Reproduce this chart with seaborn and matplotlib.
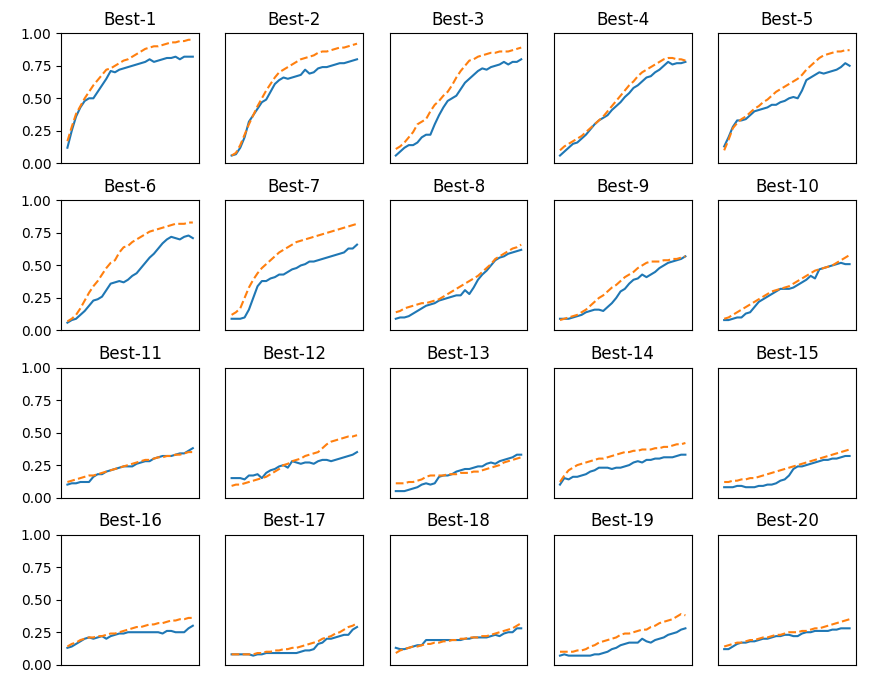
import numpy as np
import pandas as pd
import seaborn as sns
import matplotlib.pyplot as plt

titles = [f"Best-{i}" for i in range(1, 21)]
yticks = [0.00, 0.25, 0.50, 0.75, 1.00]

# blue solid curves, one list per panel
blue = [
    [0.12, 0.25, 0.36, 0.43, 0.48, 0.50, 0.50, 0.55, 0.60, 0.65, 0.71, 0.70, 0.72, 0.73, 0.74, 0.75, 0.76, 0.77, 0.78, 0.80, 0.78, 0.79, 0.80, 0.81, 0.81, 0.82, 0.80, 0.82, 0.82, 0.82],
    [0.06, 0.07, 0.12, 0.20, 0.32, 0.37, 0.42, 0.47, 0.49, 0.55, 0.61, 0.64, 0.66, 0.65, 0.66, 0.67, 0.68, 0.72, 0.69, 0.70, 0.73, 0.74, 0.74, 0.75, 0.76, 0.77, 0.77, 0.78, 0.79, 0.80],
    [0.06, 0.09, 0.12, 0.14, 0.14, 0.16, 0.20, 0.22, 0.22, 0.30, 0.37, 0.43, 0.48, 0.50, 0.52, 0.57, 0.62, 0.65, 0.68, 0.71, 0.73, 0.72, 0.74, 0.75, 0.76, 0.78, 0.76, 0.78, 0.78, 0.80],
    [0.06, 0.09, 0.12, 0.15, 0.16, 0.19, 0.22, 0.26, 0.30, 0.33, 0.35, 0.37, 0.41, 0.44, 0.47, 0.51, 0.54, 0.58, 0.60, 0.63, 0.66, 0.67, 0.70, 0.72, 0.75, 0.78, 0.76, 0.77, 0.77, 0.78],
    [0.13, 0.20, 0.28, 0.33, 0.33, 0.34, 0.37, 0.40, 0.41, 0.42, 0.43, 0.45, 0.45, 0.47, 0.48, 0.50, 0.51, 0.50, 0.56, 0.64, 0.66, 0.68, 0.70, 0.69, 0.70, 0.71, 0.72, 0.74, 0.77, 0.75],
    [0.06, 0.08, 0.09, 0.12, 0.15, 0.19, 0.23, 0.24, 0.26, 0.31, 0.36, 0.37, 0.38, 0.37, 0.39, 0.42, 0.44, 0.48, 0.52, 0.56, 0.59, 0.63, 0.67, 0.70, 0.72, 0.71, 0.70, 0.72, 0.73, 0.71],
    [0.09, 0.09, 0.09, 0.10, 0.16, 0.25, 0.34, 0.38, 0.38, 0.40, 0.41, 0.43, 0.43, 0.45, 0.47, 0.48, 0.50, 0.51, 0.53, 0.53, 0.54, 0.55, 0.56, 0.57, 0.58, 0.59, 0.60, 0.63, 0.63, 0.66],
    [0.09, 0.10, 0.10, 0.11, 0.13, 0.15, 0.17, 0.19, 0.20, 0.21, 0.23, 0.24, 0.25, 0.26, 0.27, 0.27, 0.31, 0.28, 0.33, 0.39, 0.43, 0.46, 0.50, 0.54, 0.56, 0.57, 0.59, 0.60, 0.61, 0.62],
    [0.09, 0.09, 0.09, 0.10, 0.11, 0.12, 0.14, 0.15, 0.16, 0.16, 0.15, 0.18, 0.21, 0.25, 0.30, 0.32, 0.36, 0.39, 0.40, 0.43, 0.41, 0.43, 0.45, 0.48, 0.50, 0.52, 0.53, 0.54, 0.55, 0.57],
    [0.08, 0.08, 0.09, 0.10, 0.10, 0.13, 0.14, 0.18, 0.22, 0.24, 0.26, 0.28, 0.30, 0.32, 0.32, 0.32, 0.33, 0.35, 0.37, 0.39, 0.42, 0.40, 0.47, 0.48, 0.49, 0.50, 0.51, 0.52, 0.51, 0.51],
    [0.10, 0.11, 0.11, 0.12, 0.12, 0.12, 0.16, 0.18, 0.18, 0.20, 0.21, 0.22, 0.23, 0.24, 0.24, 0.24, 0.26, 0.27, 0.28, 0.28, 0.30, 0.31, 0.32, 0.32, 0.32, 0.33, 0.34, 0.34, 0.36, 0.38],
    [0.15, 0.15, 0.15, 0.14, 0.17, 0.17, 0.18, 0.15, 0.19, 0.21, 0.22, 0.24, 0.25, 0.23, 0.28, 0.27, 0.26, 0.27, 0.27, 0.26, 0.28, 0.29, 0.29, 0.28, 0.29, 0.30, 0.31, 0.32, 0.33, 0.35],
    [0.05, 0.05, 0.05, 0.06, 0.07, 0.08, 0.10, 0.11, 0.10, 0.11, 0.16, 0.17, 0.17, 0.18, 0.20, 0.21, 0.22, 0.22, 0.23, 0.24, 0.24, 0.26, 0.27, 0.26, 0.28, 0.29, 0.30, 0.31, 0.33, 0.33],
    [0.10, 0.15, 0.14, 0.16, 0.16, 0.17, 0.18, 0.20, 0.21, 0.23, 0.23, 0.23, 0.22, 0.23, 0.23, 0.24, 0.25, 0.27, 0.28, 0.27, 0.29, 0.29, 0.30, 0.30, 0.31, 0.31, 0.31, 0.32, 0.33, 0.33],
    [0.08, 0.08, 0.08, 0.09, 0.09, 0.08, 0.08, 0.08, 0.09, 0.09, 0.10, 0.10, 0.11, 0.13, 0.14, 0.17, 0.22, 0.24, 0.24, 0.25, 0.26, 0.27, 0.28, 0.29, 0.29, 0.30, 0.30, 0.31, 0.32, 0.32],
    [0.13, 0.14, 0.16, 0.18, 0.20, 0.21, 0.20, 0.21, 0.22, 0.20, 0.22, 0.23, 0.24, 0.24, 0.25, 0.25, 0.25, 0.25, 0.25, 0.25, 0.25, 0.25, 0.24, 0.26, 0.26, 0.25, 0.25, 0.25, 0.28, 0.30],
    [0.08, 0.08, 0.08, 0.08, 0.08, 0.07, 0.08, 0.08, 0.09, 0.09, 0.09, 0.09, 0.09, 0.09, 0.09, 0.09, 0.10, 0.11, 0.11, 0.12, 0.16, 0.17, 0.20, 0.20, 0.21, 0.22, 0.23, 0.23, 0.27, 0.29],
    [0.13, 0.12, 0.12, 0.13, 0.14, 0.15, 0.15, 0.19, 0.19, 0.19, 0.19, 0.19, 0.19, 0.19, 0.19, 0.19, 0.20, 0.20, 0.21, 0.21, 0.21, 0.21, 0.22, 0.23, 0.22, 0.24, 0.25, 0.25, 0.28, 0.28],
    [0.07, 0.08, 0.07, 0.07, 0.07, 0.07, 0.07, 0.07, 0.08, 0.08, 0.09, 0.10, 0.12, 0.13, 0.15, 0.16, 0.17, 0.17, 0.17, 0.20, 0.18, 0.17, 0.19, 0.20, 0.21, 0.23, 0.24, 0.25, 0.27, 0.28],
    [0.12, 0.12, 0.14, 0.16, 0.17, 0.17, 0.18, 0.18, 0.19, 0.20, 0.20, 0.21, 0.22, 0.22, 0.23, 0.23, 0.22, 0.22, 0.24, 0.25, 0.25, 0.26, 0.26, 0.26, 0.26, 0.27, 0.27, 0.28, 0.28, 0.28],
]

# orange dashed curves
orange = [
    [0.17, 0.28, 0.38, 0.44, 0.50, 0.55, 0.60, 0.64, 0.68, 0.72, 0.73, 0.75, 0.77, 0.79, 0.80, 0.82, 0.84, 0.86, 0.88, 0.89, 0.90, 0.90, 0.91, 0.92, 0.93, 0.93, 0.94, 0.94, 0.95, 0.95],
    [0.06, 0.08, 0.14, 0.22, 0.30, 0.37, 0.44, 0.50, 0.56, 0.61, 0.66, 0.70, 0.72, 0.74, 0.76, 0.78, 0.80, 0.81, 0.82, 0.83, 0.85, 0.86, 0.86, 0.87, 0.88, 0.89, 0.89, 0.90, 0.91, 0.92],
    [0.11, 0.13, 0.16, 0.20, 0.24, 0.30, 0.32, 0.34, 0.40, 0.45, 0.48, 0.52, 0.55, 0.60, 0.66, 0.71, 0.75, 0.79, 0.80, 0.82, 0.83, 0.84, 0.85, 0.85, 0.86, 0.86, 0.86, 0.87, 0.88, 0.89],
    [0.10, 0.13, 0.15, 0.17, 0.19, 0.21, 0.24, 0.27, 0.30, 0.33, 0.36, 0.40, 0.44, 0.48, 0.52, 0.56, 0.60, 0.63, 0.67, 0.70, 0.72, 0.74, 0.76, 0.78, 0.80, 0.81, 0.81, 0.80, 0.80, 0.79],
    [0.10, 0.18, 0.27, 0.31, 0.34, 0.36, 0.39, 0.42, 0.44, 0.47, 0.49, 0.52, 0.55, 0.57, 0.59, 0.61, 0.63, 0.65, 0.68, 0.72, 0.75, 0.78, 0.81, 0.83, 0.84, 0.85, 0.86, 0.86, 0.87, 0.87],
    [0.07, 0.09, 0.12, 0.17, 0.23, 0.29, 0.34, 0.38, 0.43, 0.48, 0.52, 0.54, 0.60, 0.64, 0.65, 0.68, 0.70, 0.72, 0.74, 0.76, 0.77, 0.78, 0.79, 0.80, 0.81, 0.82, 0.82, 0.82, 0.83, 0.83],
    [0.12, 0.14, 0.17, 0.25, 0.33, 0.39, 0.44, 0.48, 0.51, 0.54, 0.57, 0.60, 0.62, 0.64, 0.66, 0.68, 0.69, 0.70, 0.71, 0.72, 0.73, 0.74, 0.75, 0.76, 0.77, 0.78, 0.79, 0.80, 0.81, 0.82],
    [0.14, 0.15, 0.17, 0.18, 0.19, 0.20, 0.21, 0.21, 0.22, 0.23, 0.24, 0.26, 0.28, 0.30, 0.32, 0.34, 0.36, 0.38, 0.40, 0.42, 0.45, 0.48, 0.51, 0.55, 0.57, 0.59, 0.61, 0.63, 0.64, 0.66],
    [0.08, 0.09, 0.10, 0.11, 0.12, 0.14, 0.16, 0.19, 0.22, 0.25, 0.27, 0.30, 0.33, 0.35, 0.38, 0.41, 0.43, 0.45, 0.48, 0.50, 0.52, 0.53, 0.53, 0.53, 0.54, 0.54, 0.55, 0.55, 0.56, 0.57],
    [0.09, 0.10, 0.12, 0.14, 0.16, 0.18, 0.20, 0.22, 0.24, 0.26, 0.28, 0.30, 0.31, 0.32, 0.33, 0.34, 0.36, 0.38, 0.40, 0.42, 0.44, 0.46, 0.47, 0.48, 0.49, 0.50, 0.52, 0.54, 0.56, 0.58],
    [0.12, 0.13, 0.14, 0.15, 0.16, 0.17, 0.17, 0.18, 0.19, 0.20, 0.21, 0.22, 0.23, 0.24, 0.25, 0.26, 0.27, 0.28, 0.29, 0.29, 0.30, 0.31, 0.31, 0.32, 0.32, 0.33, 0.33, 0.34, 0.35, 0.35],
    [0.09, 0.10, 0.10, 0.11, 0.12, 0.13, 0.14, 0.15, 0.16, 0.18, 0.20, 0.22, 0.25, 0.26, 0.28, 0.29, 0.30, 0.32, 0.33, 0.34, 0.35, 0.38, 0.41, 0.43, 0.44, 0.45, 0.46, 0.47, 0.47, 0.48],
    [0.11, 0.11, 0.11, 0.12, 0.12, 0.13, 0.14, 0.16, 0.17, 0.17, 0.17, 0.17, 0.18, 0.18, 0.18, 0.19, 0.19, 0.19, 0.20, 0.20, 0.21, 0.22, 0.23, 0.24, 0.25, 0.27, 0.28, 0.29, 0.30, 0.31],
    [0.12, 0.17, 0.21, 0.23, 0.25, 0.26, 0.27, 0.28, 0.29, 0.30, 0.30, 0.31, 0.32, 0.33, 0.34, 0.35, 0.35, 0.36, 0.36, 0.37, 0.37, 0.37, 0.38, 0.38, 0.39, 0.39, 0.40, 0.41, 0.41, 0.42],
    [0.12, 0.12, 0.13, 0.13, 0.14, 0.14, 0.15, 0.15, 0.16, 0.17, 0.18, 0.19, 0.20, 0.21, 0.22, 0.23, 0.24, 0.25, 0.26, 0.27, 0.28, 0.29, 0.30, 0.31, 0.32, 0.33, 0.34, 0.35, 0.36, 0.37],
    [0.14, 0.16, 0.17, 0.19, 0.20, 0.21, 0.21, 0.22, 0.22, 0.23, 0.24, 0.24, 0.25, 0.26, 0.27, 0.28, 0.29, 0.29, 0.30, 0.31, 0.31, 0.32, 0.32, 0.33, 0.34, 0.34, 0.35, 0.35, 0.36, 0.36],
    [0.08, 0.08, 0.08, 0.08, 0.08, 0.08, 0.09, 0.09, 0.10, 0.10, 0.11, 0.11, 0.12, 0.12, 0.13, 0.13, 0.14, 0.15, 0.16, 0.17, 0.18, 0.20, 0.21, 0.22, 0.24, 0.25, 0.27, 0.29, 0.30, 0.32],
    [0.09, 0.11, 0.12, 0.13, 0.14, 0.14, 0.15, 0.16, 0.16, 0.17, 0.17, 0.18, 0.18, 0.19, 0.19, 0.20, 0.20, 0.21, 0.21, 0.21, 0.22, 0.22, 0.23, 0.24, 0.25, 0.26, 0.27, 0.28, 0.30, 0.32],
    [0.10, 0.10, 0.10, 0.10, 0.11, 0.11, 0.12, 0.14, 0.15, 0.17, 0.18, 0.19, 0.20, 0.21, 0.23, 0.24, 0.24, 0.25, 0.26, 0.27, 0.27, 0.29, 0.30, 0.32, 0.33, 0.34, 0.35, 0.37, 0.39, 0.38],
    [0.14, 0.15, 0.16, 0.17, 0.17, 0.18, 0.19, 0.19, 0.20, 0.21, 0.21, 0.22, 0.23, 0.23, 0.24, 0.25, 0.25, 0.25, 0.26, 0.26, 0.27, 0.28, 0.28, 0.29, 0.30, 0.31, 0.32, 0.33, 0.34, 0.35],
]

fig, axes = plt.subplots(4, 5, figsize=(8.86, 6.79), dpi=100)
fig.subplots_adjust(left=0.069, right=0.966, top=0.951, bottom=0.021,
                    wspace=0.19, hspace=0.285)

for i, ax in enumerate(axes.flat):
    steps = np.arange(len(blue[i]))
    sns.lineplot(x=steps, y=blue[i], ax=ax, color="#1f77b4", linewidth=1.5)
    sns.lineplot(x=steps, y=orange[i], ax=ax, color="#ff7f0e", linewidth=1.5,
                 linestyle="--")
    ax.set_title(titles[i], fontsize=12)
    ax.set_ylim(0, 1)
    ax.set_xticks([])
    if i % 5 == 0:
        ax.set_yticks(yticks)
        ax.set_yticklabels([f"{t:.2f}" for t in yticks], fontsize=10)
    else:
        ax.set_yticks([])

fig.savefig("out.png", dpi=100)
